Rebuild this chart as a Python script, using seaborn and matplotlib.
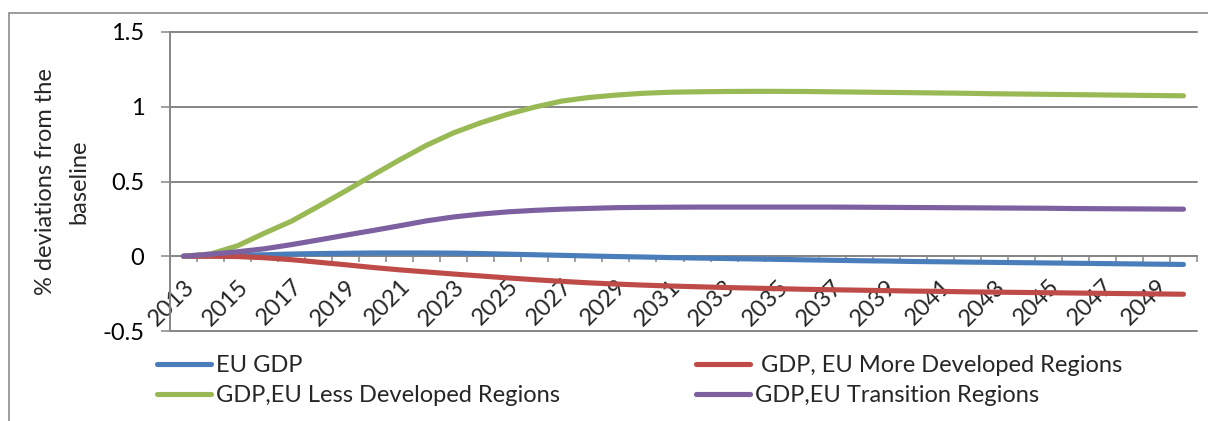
import matplotlib
matplotlib.use("Agg")
import matplotlib.pyplot as plt
from matplotlib.lines import Line2D
from matplotlib.patches import Rectangle
import pandas as pd
import seaborn as sns

# ---- data -------------------------------------------------------------
years = list(range(2013, 2051))

eu_gdp = [0.000, 0.003, 0.006, 0.010, 0.015, 0.018, 0.020, 0.022, 0.022, 0.022,
          0.021, 0.018, 0.014, 0.010, 0.006, 0.002, -0.002, -0.005, -0.009, -0.012,
          -0.015, -0.018, -0.021, -0.024, -0.027, -0.030, -0.032, -0.035, -0.037, -0.039,
          -0.041, -0.043, -0.045, -0.047, -0.049, -0.051, -0.053, -0.055]

more_developed = [0.000, 0.000, -0.002, -0.010, -0.023, -0.040, -0.057, -0.075, -0.091, -0.105,
                  -0.119, -0.132, -0.145, -0.157, -0.168, -0.178, -0.186, -0.193, -0.199, -0.204,
                  -0.209, -0.213, -0.217, -0.221, -0.224, -0.227, -0.230, -0.233, -0.235, -0.238,
                  -0.240, -0.242, -0.244, -0.246, -0.248, -0.250, -0.252, -0.254]

less_developed = [0.000, 0.015, 0.070, 0.155, 0.235, 0.335, 0.437, 0.542, 0.645, 0.743,
                  0.826, 0.893, 0.950, 0.998, 1.038, 1.062, 1.078, 1.090, 1.097, 1.100,
                  1.102, 1.103, 1.103, 1.102, 1.100, 1.098, 1.096, 1.094, 1.092, 1.090,
                  1.087, 1.085, 1.083, 1.081, 1.079, 1.077, 1.075, 1.073]

transition = [0.000, 0.014, 0.030, 0.050, 0.078, 0.109, 0.141, 0.172, 0.204, 0.237,
              0.263, 0.282, 0.297, 0.307, 0.315, 0.320, 0.325, 0.327, 0.328, 0.329,
              0.329, 0.329, 0.329, 0.329, 0.329, 0.328, 0.327, 0.326, 0.325, 0.324,
              0.323, 0.322, 0.321, 0.319, 0.318, 0.317, 0.316, 0.315]

series_names = ["EU GDP", " GDP, EU More Developed Regions",
                "GDP,EU Less Developed Regions", "GDP,EU Transition Regions"]
series_values = [eu_gdp, more_developed, less_developed, transition]
series_colors = ["#4a7ebb", "#be4b48", "#98b954", "#7d60a0"]

y_ticks = [-0.5, 0, 0.5, 1, 1.5]
y_tick_labels = ["-0.5", "0", "0.5", "1", "1.5"]
x_label_years = list(range(2013, 2050, 2))
y_title = "% deviations from the\nbaseline"

# ---- style ------------------------------------------------------------
sns.set_theme(style="white")
plt.rcParams["font.family"] = ["Lato", "DejaVu Sans"]
FS = 17
GREY = "#868686"
LW = 3.7

df = pd.DataFrame({
    "year": years * len(series_names),
    "value": [v for vals in series_values for v in vals],
    "series": [n for n in series_names for _ in years],
})

W, H = 1208, 421
fig = plt.figure(figsize=(W / 100, H / 100), dpi=100)


def fx(px):
    return px / W


def fy(py):
    return 1 - py / H


left, right, top, bottom = 170, 1197, 32, 331
ax = fig.add_axes([fx(left), fy(bottom), (right - left) / W, (bottom - top) / H])

sns.lineplot(data=df, x="year", y="value", hue="series", hue_order=series_names,
             palette=series_colors, linewidth=LW, solid_capstyle="round",
             ax=ax, legend=False, zorder=3)

ax.set_xlim(years[0] - 0.5, years[-1] + 0.5)
ax.set_ylim(-0.5, 1.5)
ax.set_xlabel("")
ax.set_ylabel("")

# y axis
ax.set_yticks(y_ticks)
ax.set_yticklabels(y_tick_labels, fontsize=FS, color="black")
ax.tick_params(axis="y", which="major", direction="out", length=6.5, width=1.1,
               color=GREY, pad=12, left=True)
ax.yaxis.grid(True, color=GREY, linewidth=1.4)
ax.xaxis.grid(False)
for gl in ax.get_ygridlines():
    gl.set_clip_on(False)
ax.set_axisbelow(True)

# category axis crossing at zero
ax.spines["bottom"].set_position(("data", 0))
for side in ["top", "right"]:
    ax.spines[side].set_visible(False)
for side in ["left", "bottom"]:
    ax.spines[side].set_color(GREY)
    ax.spines[side].set_linewidth(1.4)

boundaries = [y - 0.5 for y in years] + [years[-1] + 0.5]
ax.set_xticks(boundaries)
ax.set_xticklabels([])
ax.set_xticks(x_label_years, minor=True)
ax.set_xticklabels([str(y) for y in x_label_years], minor=True, fontsize=FS)
ax.tick_params(axis="x", which="major", direction="out", length=4.5, width=1.1,
               color=GREY, bottom=True)
ax.tick_params(axis="x", which="minor", length=0, pad=14, bottom=True)
for lab in ax.get_xticklabels(minor=True):
    lab.set_rotation(45)
    lab.set_ha("right")
    lab.set_va("top")
    lab.set_rotation_mode("anchor")

# axis title
fig.text(fx(62), fy(182), y_title, rotation=90, ha="center", va="center",
         multialignment="center", fontsize=FS, linespacing=1.72)

# legend in two columns
handles = [Line2D([], [], color=c, lw=LW, solid_capstyle="round") for c in series_colors]
leg_kw = dict(frameon=False, borderpad=0, borderaxespad=0, fontsize=FS,
              handlelength=2.3, handletextpad=0.2, labelspacing=0.4, loc="upper left")
leg1 = fig.legend([handles[0], handles[2]], [series_names[0], series_names[2]],
                  bbox_to_anchor=(fx(157), fy(355)), **leg_kw)
leg2 = fig.legend([handles[1], handles[3]], [series_names[1], series_names[3]],
                  bbox_to_anchor=(fx(696), fy(355)), **leg_kw)

# chart frame
fig.patches.append(Rectangle((fx(9), -0.2), 1.5, fy(13) + 0.2, transform=fig.transFigure,
                             fill=False, edgecolor="#8c8c8c", linewidth=1.2, clip_on=False))

fig.savefig("out.png", dpi=100)
